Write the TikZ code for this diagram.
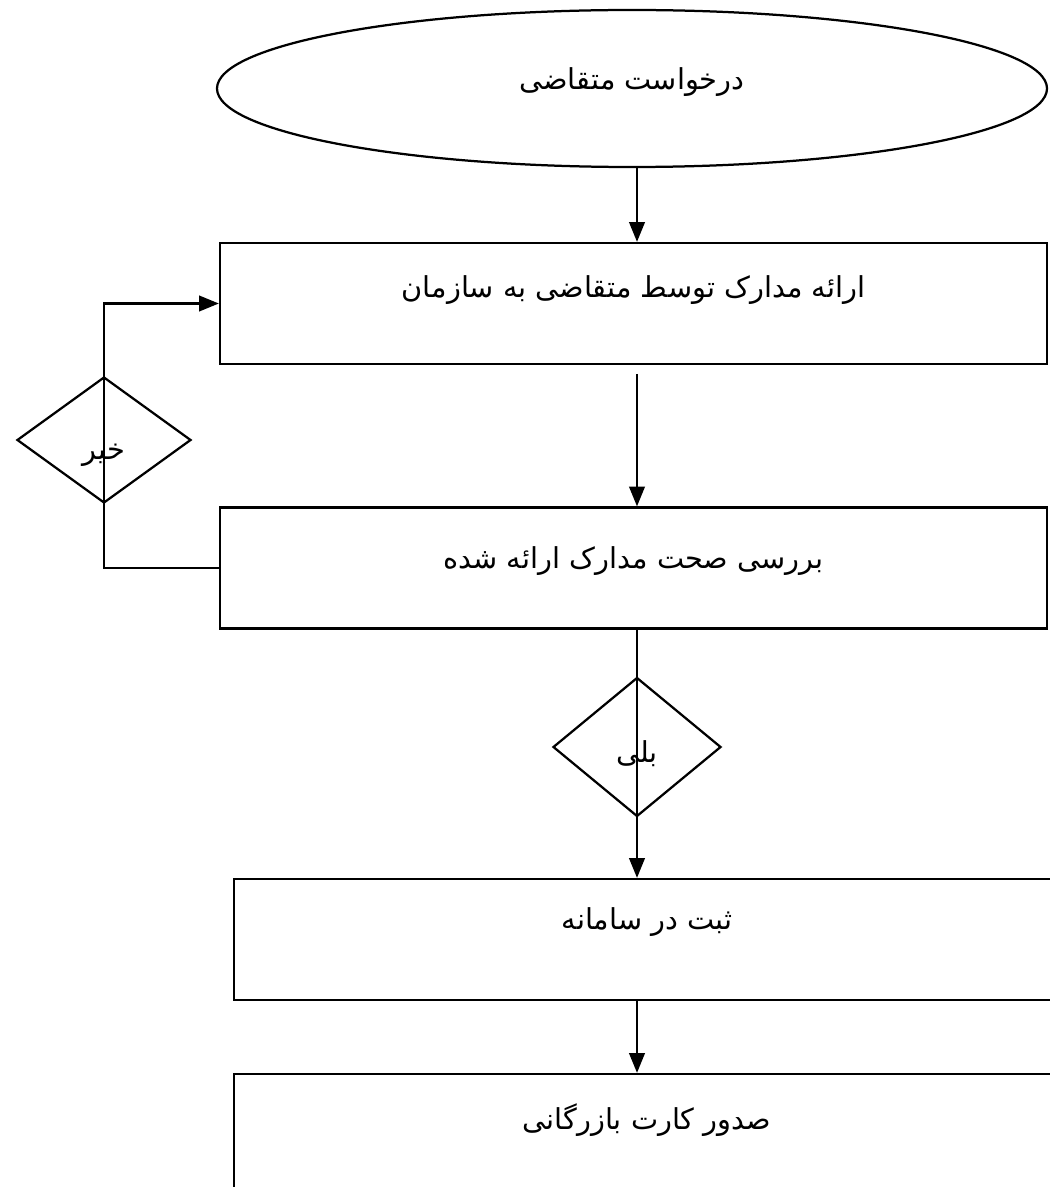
\documentclass[tikz,border=0pt]{standalone}
\usepackage{fontspec}
\newfontfamily\arabicfont[Script=Arabic]{DejaVu Sans}
\TeXXeTstate=1
\usetikzlibrary{shapes.geometric,arrows.meta}
\newcommand\fa[2]{\raisebox{#1}[0pt][0pt]{\arabicfont #2}}

\begin{document}
\begin{tikzpicture}[x = 0.25mm, y = -0.25mm, line width = 1.6pt, >={Triangle[length = 14pt, width = 11pt]},
	procbox/.style = {draw, rectangle, inner sep = 0pt, minimum width = 206.75mm, minimum height = 30.25mm, font = \fontsize{20.5}{24}\selectfont},
	startnode/.style = {draw, ellipse, inner sep = 0pt, minimum width = 207.5mm, minimum height = 39.25mm, font = \fontsize{20.5}{24}\selectfont},
	decision/.style = {draw, diamond, inner sep = 0pt, font = \fontsize{20.5}{24}\selectfont}]
	\useasboundingbox (0,0) rectangle (1049,1187);
	
	\node[startnode] (start) at (632,88.5) {\fa{-1pt}{\beginR درخواست متقاضی\endR}};
	\node[procbox] (submit) at (633.5,303.5) {\fa{4pt}{\beginR ارائه مدارک توسط متقاضی به سازمان\endR}};
	\node[procbox] (check) at (633.5,568) {\fa{0pt}{\beginR بررسی صحت مدارک ارائه شده\endR}};
	\node[procbox, minimum width = 206.5mm] (record) at (647,939.5) {\fa{7pt}{\beginR ثبت در سامانه\endR}};
	\node[procbox, minimum width = 206.5mm] (issue) at (647,1134.5) {\fa{3.5pt}{\beginR صدور کارت بازرگانی\endR}};
	
	\node[decision, minimum width = 43.5mm, minimum height = 31.5mm] (no) at (104,440) {\fa{-14pt}{\beginR خیر\endR}};
	\node[decision, minimum width = 42mm, minimum height = 34.75mm] (yes) at (637,747) {\fa{-11pt}{\beginR بلی\endR}};
	
	\draw[->] (start.south -| yes) -- (submit.north -| yes);
	\draw[->, shorten <= 2.2mm] (submit.south -| yes) -- (check.north -| yes);
	\draw[->] (check.west) -| (no.center) |- (submit.west);
	\draw[->] (check.south -| yes) -- (yes.center) -- (record.north -| yes);
	\draw[->] (record.south -| yes) -- (issue.north -| yes);
\end{tikzpicture}
\end{document}
